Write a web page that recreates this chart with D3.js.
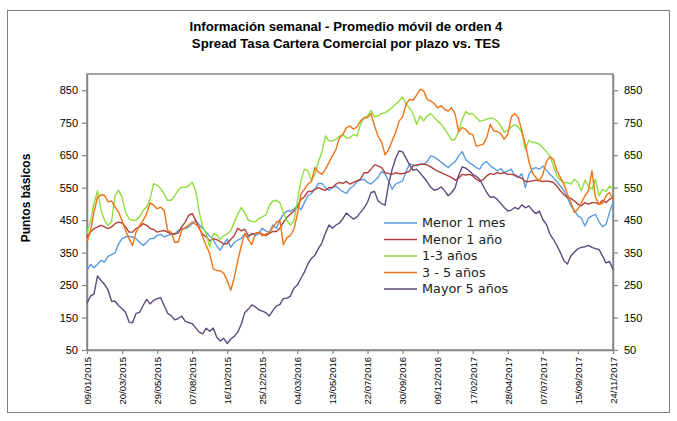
<!DOCTYPE html>
<html>
<head>
<meta charset="utf-8">
<script src="https://cdn.jsdelivr.net/npm/d3@7"></script>
<style>
  body { margin: 0; background: #fff; }
</style>
</head>
<body>
<div id="chart"></div>
<script>
// semanal, promedio movil de orden 4 (puntos basicos)
const menor1mes = [
  295, 314, 303, 314, 326, 321, 338, 344, 349, 377,
  393, 398, 400, 398, 393, 382, 372, 382, 393, 393,
  403, 406, 398, 403, 406, 406, 418, 424, 424, 429,
  439, 449, 436, 424, 413, 400, 390, 370, 357, 376,
  391, 366, 381, 388, 394, 407, 396, 409, 402, 409,
  425, 417, 412, 435, 425, 450, 468, 478, 478, 484,
  494, 482, 504, 525, 532, 545, 563, 563, 550, 542,
  550, 555, 545, 538, 532, 548, 555, 569, 573, 576,
  566, 561, 571, 581, 600, 592, 571, 545, 561, 566,
  571, 600, 622, 620, 617, 622, 622, 630, 648, 645,
  637, 628, 620, 612, 622, 630, 648, 661, 637, 627,
  620, 612, 607, 625, 630, 617, 610, 602, 609, 596,
  602, 607, 586, 581, 593, 550, 590, 607, 612, 607,
  617, 604, 591, 581, 568, 555, 540, 520, 495, 480,
  463, 456, 432, 456, 463, 468, 445, 430, 437, 473, 505
]
const menor1ano = [
  398, 413, 424, 429, 434, 429, 424, 429, 439, 444,
  441, 429, 413, 413, 424, 429, 439, 434, 424, 421,
  413, 416, 418, 413, 408, 408, 410, 429, 444, 465,
  470, 449, 424, 406, 398, 386, 393, 390, 384, 376,
  378, 391, 402, 425, 417, 422, 402, 407, 409, 412,
  407, 402, 409, 415, 415, 425, 443, 458, 468, 478,
  491, 514, 522, 538, 538, 545, 550, 545, 542, 550,
  550, 561, 566, 563, 569, 561, 566, 571, 576, 596,
  596, 607, 620, 617, 612, 596, 593, 591, 596, 593,
  593, 596, 601, 617, 620, 622, 622, 620, 614, 607,
  601, 596, 591, 586, 581, 573, 579, 591, 589, 591,
  586, 576, 569, 575, 586, 593, 591, 596, 593, 596,
  591, 591, 589, 583, 579, 569, 569, 571, 573, 571,
  569, 571, 569, 566, 555, 540, 528, 520, 517, 509,
  499, 494, 504, 499, 504, 504, 499, 511, 504, 514, 521
]
const de1a3 = [
  408, 449, 501, 540, 480, 450, 434, 445, 526, 542,
  521, 475, 454, 449, 450, 460, 480, 490, 516, 562,
  558, 547, 531, 511, 511, 525, 542, 552, 550, 556,
  567, 540, 475, 429, 408, 367, 408, 405, 391, 402,
  407, 417, 443, 468, 489, 473, 450, 446, 445, 455,
  460, 466, 495, 509, 511, 504, 473, 448, 435, 448,
  509, 571, 607, 602, 573, 591, 630, 660, 709, 694,
  694, 699, 709, 714, 702, 704, 714, 709, 745, 766,
  771, 788, 768, 771, 778, 781, 788, 796, 807, 817,
  829, 809, 794, 778, 745, 771, 755, 771, 778, 766,
  755, 745, 730, 714, 696, 699, 725, 761, 784, 776,
  778, 766, 755, 757, 761, 764, 763, 755, 740, 720,
  727, 737, 743, 737, 720, 668, 696, 689, 689, 684,
  673, 661, 648, 617, 586, 573, 566, 566, 561, 576,
  566, 540, 573, 555, 545, 576, 525, 545, 538, 555, 545
]
const de3a5 = [
  382, 418, 475, 521, 528, 526, 506, 509, 490, 475,
  449, 418, 393, 372, 413, 434, 449, 470, 503, 496,
  485, 490, 480, 418, 413, 382, 382, 418, 427, 435,
  444, 437, 429, 398, 372, 346, 300, 295, 294, 286,
  263, 234, 273, 325, 371, 409, 391, 374, 409, 412,
  402, 407, 412, 427, 443, 450, 374, 396, 402, 422,
  468, 530, 545, 561, 569, 612, 598, 591, 607, 627,
  648, 668, 704, 714, 735, 740, 730, 737, 755, 764,
  766, 778, 740, 709, 690, 651, 667, 694, 719, 755,
  768, 807, 822, 820, 835, 853, 848, 822, 817, 809,
  796, 802, 791, 786, 796, 776, 722, 735, 730, 716,
  714, 678, 680, 684, 704, 745, 725, 723, 716, 699,
  714, 768, 778, 766, 725, 684, 632, 596, 581, 571,
  591, 630, 645, 637, 602, 581, 561, 530, 504, 473,
  484, 504, 525, 540, 602, 520, 499, 501, 525, 535, 514
]
const mayor5 = [
  194, 216, 223, 278, 264, 252, 235, 200, 200, 187,
  177, 166, 136, 134, 163, 166, 187, 206, 192, 203,
  208, 211, 187, 163, 156, 143, 147, 154, 139, 134,
  131, 118, 105, 100, 117, 108, 118, 89, 78, 86,
  70, 84, 92, 105, 130, 165, 176, 189, 183, 174,
  170, 165, 155, 171, 186, 190, 209, 209, 216, 240,
  250, 271, 290, 315, 332, 342, 362, 380, 410, 435,
  425, 435, 441, 455, 472, 462, 453, 460, 474, 487,
  505, 535, 538, 509, 501, 496, 560, 605, 640, 663,
  660, 640, 620, 603, 607, 595, 582, 568, 552, 542,
  545, 552, 540, 525, 535, 550, 588, 614, 610, 602,
  591, 585, 575, 555, 535, 520, 522, 514, 501, 489,
  478, 481, 489, 484, 497, 488, 494, 480, 470, 478,
  452, 437, 407, 391, 372, 350, 325, 315, 340, 352,
  362, 366, 368, 372, 366, 362, 360, 340, 318, 323, 298
]

const seriesNames = ['Menor 1 mes', 'Menor 1 año', '1-3 años', '3 - 5 años', 'Mayor 5 años']
const seriesColors = ['#5b9bde', '#b2403c', '#8fde3f', '#ef7316', '#5e4a7e']
const tickLabels = ['09/01/2015', '20/03/2015', '29/05/2015', '07/08/2015', '16/10/2015', '25/12/2015',
  '04/03/2016', '13/05/2016', '22/07/2016', '30/09/2016', '09/12/2016', '17/02/2017',
  '28/04/2017', '07/07/2017', '15/09/2017', '24/11/2017']
const yTicks = [50, 150, 250, 350, 450, 550, 650, 750, 850]

const width = 677
const height = 421
const plot = {left: 87, right: 613, top: 74, bottom: 350}
const AXIS_COLOR = '#868686'
const FONT = '"Liberation Sans", Arial, sans-serif'

const parse = d3.timeParse('%d/%m/%Y')
const start = parse(tickLabels[0])
const dates = menor1mes.map((d, i) => d3.timeWeek.offset(start, i))
const series = [menor1mes, menor1ano, de1a3, de3a5, mayor5]

const x = d3.scaleTime().domain([start, parse(tickLabels[tickLabels.length - 1])]).range([plot.left, plot.right])
const y = d3.scaleLinear().domain([50, 900]).range([plot.bottom, plot.top])

const svg = d3.select('#chart').append('svg')
  .attr('width', width).attr('height', height)
  .style('font-family', FONT)

// marco exterior
svg.append('rect')
  .attr('x', 7.5).attr('y', 10.5).attr('width', 662).attr('height', 402)
  .attr('fill', 'none').attr('stroke', '#7f7f7f').attr('stroke-width', 1)

// titulo
const title = svg.append('text').attr('text-anchor', 'middle').attr('font-weight', 'bold').attr('font-size', 13.2).attr('fill', '#000')
title.append('tspan').attr('x', 346).attr('y', 31).text('Información semanal - Promedio móvil de orden 4')
title.append('tspan').attr('x', 346).attr('y', 48).text('Spread Tasa Cartera Comercial por plazo vs. TES')

// caja del area de trazado
svg.append('rect')
  .attr('x', plot.left).attr('y', plot.top)
  .attr('width', plot.right - plot.left).attr('height', plot.bottom - plot.top)
  .attr('fill', 'none').attr('stroke', AXIS_COLOR).attr('stroke-width', 1.5)

const styleAxis = g => {
  g.select('.domain').attr('stroke', AXIS_COLOR).attr('stroke-width', 1.5)
  g.selectAll('.tick line').attr('stroke', AXIS_COLOR).attr('stroke-width', 1.2)
  g.selectAll('.tick text').attr('fill', '#000').style('font-family', FONT)
}

svg.append('g')
  .attr('transform', `translate(${plot.left}, 0)`)
  .call(d3.axisLeft(y).tickValues(yTicks).tickSize(5).tickSizeOuter(0).tickPadding(4))
  .call(styleAxis)
  .call(g => g.selectAll('.tick text').attr('font-size', 11))

svg.append('g')
  .attr('transform', `translate(${plot.right}, 0)`)
  .call(d3.axisRight(y).tickValues(yTicks).tickSize(5).tickSizeOuter(0).tickPadding(6))
  .call(styleAxis)
  .call(g => g.selectAll('.tick text').attr('font-size', 11))

svg.append('g')
  .attr('transform', `translate(0, ${plot.bottom})`)
  .call(d3.axisBottom(x).tickValues(tickLabels.map(parse)).tickFormat(d3.timeFormat('%d/%m/%Y')).tickSize(4).tickSizeOuter(0))
  .call(styleAxis)
  .call(g => g.selectAll('.tick text')
    .attr('font-size', 9.5)
    .attr('transform', 'rotate(-90)')
    .attr('text-anchor', 'end')
    .attr('x', -7).attr('y', 0).attr('dy', '0.35em'))

svg.append('text')
  .attr('transform', 'translate(30, 198) rotate(-90)')
  .attr('text-anchor', 'middle')
  .attr('font-weight', 'bold').attr('font-size', 12)
  .text('Puntos básicos')

const line = d3.line()
  .x((d, i) => x(dates[i]))
  .y(d => y(d))

svg.selectAll('path.serie')
  .data(series)
  .enter()
  .append('path')
  .classed('serie', true)
  .attr('d', d => line(d))
  .attr('fill', 'none')
  .attr('stroke', (d, i) => seriesColors[i])
  .attr('stroke-width', 1.4)
  .attr('stroke-linejoin', 'round')

// leyenda
const legend = svg.selectAll('g.legend')
  .data(seriesNames)
  .enter()
  .append('g')
  .classed('legend', true)
  .attr('transform', (d, i) => `translate(384, ${223 + i * 16.5})`)

legend.append('line')
  .attr('x1', 0).attr('x2', 33).attr('y1', 0).attr('y2', 0)
  .attr('stroke', (d, i) => seriesColors[i]).attr('stroke-width', 1.6)

legend.append('text')
  .attr('x', 38).attr('dy', '0.35em')
  .attr('font-size', 12.8).attr('fill', '#222')
  .style('font-family', '"DejaVu Sans", Verdana, sans-serif')
  .text(d => d)
</script>
</body>
</html>
